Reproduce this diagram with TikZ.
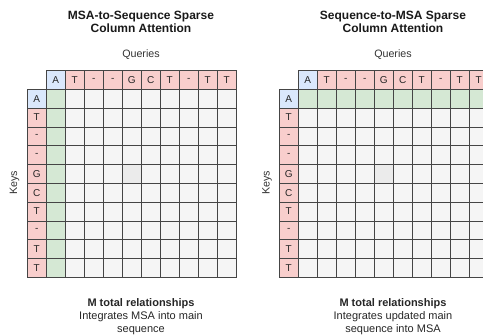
\documentclass[tikz,border=0pt]{standalone}
\usepackage{fontspec}
\setmainfont{Liberation Sans}
\definecolor{gridline}{HTML}{454545}
\definecolor{cellgray}{HTML}{F5F5F5}
\definecolor{celldark}{HTML}{EBEBEB}
\definecolor{hdrblue}{HTML}{DAE8FC}
\definecolor{hdrred}{HTML}{F8CECC}
\definecolor{attgreen}{HTML}{D5E8D4}
\begin{document}
\begin{tikzpicture}[x=1pt,y=-1pt,
  cell/.style={draw=gridline, line width=0.6pt, minimum width=19pt,
    minimum height=18.8pt, inner sep=0pt, anchor=north west,
    font=\fontsize{10}{11}\selectfont, text=black!85},
  title/.style={align=center, font=\fontsize{12}{13.5}\selectfont\bfseries, text=black!90},
  label/.style={font=\fontsize{10.7}{12}\selectfont, text=black!80},
  note/.style={align=center, font=\fontsize{11}{12.8}\selectfont, text=black!85}]
\clip (0,0) rectangle (483,335);

% ---------- left panel: MSA-to-Sequence ----------
\node[title] (ltitle) at (141,22) {MSA-to-Sequence Sparse\\Column Attention};
\node[label] (lq) at (141,54.5) {Queries};
\node[label, rotate=90] (lk) at (14.5,183) {Keys};
\foreach \s [count=\i] in {A,T,-,-,G,C,T,-,T,T}{
  \pgfmathsetmacro{\xx}{46+19*(\i-1)}
  \pgfmathsetmacro{\yy}{89+18.8*(\i-1)}
  \ifnum\i=1
    \node[cell, fill=hdrblue] (lh\i) at (\xx,70) {\s};
    \node[cell, fill=hdrblue] (lr\i) at (27,\yy) {\s};
  \else
    \node[cell, fill=hdrred] (lh\i) at (\xx,70) {\s};
    \node[cell, fill=hdrred] (lr\i) at (27,\yy) {\s};
  \fi
}
\foreach \r in {1,...,10}{
  \foreach \c in {1,...,10}{
    \pgfmathsetmacro{\xx}{46+19*(\c-1)}
    \pgfmathsetmacro{\yy}{89+18.8*(\r-1)}
    \ifnum\c=1
      \node[cell, fill=attgreen] (l-\r-\c) at (\xx,\yy) {};
    \else
      \node[cell, fill=cellgray] (l-\r-\c) at (\xx,\yy) {};
    \fi
  }
}
\node[cell, fill=celldark] at (l-5-5.north west) {};
\node[note] (lnote) at (141,316.5) {\textbf{M total relationships}\\Integrates MSA into main\\sequence};

% ---------- right panel: Sequence-to-MSA ----------
\node[title] (rtitle) at (393,22) {Sequence-to-MSA Sparse\\Column Attention};
\node[label] (rq) at (393,54.5) {Queries};
\node[label, rotate=90] (rk) at (267,183) {Keys};
\foreach \s [count=\i] in {A,T,-,-,G,C,T,-,T,T}{
  \pgfmathsetmacro{\xx}{298+19*(\i-1)}
  \pgfmathsetmacro{\yy}{89+18.8*(\i-1)}
  \ifnum\i=1
    \node[cell, fill=hdrblue] (rh\i) at (\xx,70) {\s};
    \node[cell, fill=hdrblue] (rr\i) at (279,\yy) {\s};
  \else
    \node[cell, fill=hdrred] (rh\i) at (\xx,70) {\s};
    \node[cell, fill=hdrred] (rr\i) at (279,\yy) {\s};
  \fi
}
\foreach \r in {1,...,10}{
  \foreach \c in {1,...,10}{
    \pgfmathsetmacro{\xx}{298+19*(\c-1)}
    \pgfmathsetmacro{\yy}{89+18.8*(\r-1)}
    \ifnum\r=1
      \node[cell, fill=attgreen] (r-\r-\c) at (\xx,\yy) {};
    \else
      \node[cell, fill=cellgray] (r-\r-\c) at (\xx,\yy) {};
    \fi
  }
}
\node[cell, fill=celldark] at (r-5-5.north west) {};
\node[note] (rnote) at (393,316.5) {\textbf{M total relationships}\\Integrates updated main\\sequence into MSA};
\end{tikzpicture}
\end{document}
